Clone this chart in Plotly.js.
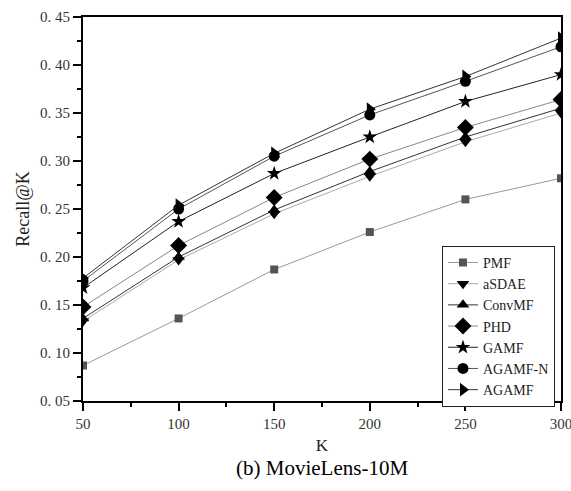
<!DOCTYPE html>
<html>
<head>
<meta charset="utf-8">
<script src="https://cdn.plot.ly/plotly-3.0.1.min.js"></script>
<style>html,body{margin:0;padding:0;background:#fff;}#chart{width:571px;height:491px;}</style>
</head>
<body>
<div id="chart"></div>
<script>
const K = [50, 100, 150, 200, 250, 300];
const PMF     = [0.087, 0.136, 0.187, 0.226, 0.260, 0.282];
const aSDAE   = [0.133, 0.197, 0.245, 0.284, 0.320, 0.350];
const ConvMF  = [0.136, 0.200, 0.249, 0.289, 0.325, 0.355];
const PHD     = [0.148, 0.212, 0.262, 0.302, 0.335, 0.364];
const GAMF    = [0.168, 0.237, 0.287, 0.325, 0.362, 0.390];
const AGAMF_N = [0.175, 0.250, 0.305, 0.348, 0.383, 0.419];
const AGAMF   = [0.178, 0.254, 0.308, 0.354, 0.388, 0.428];

const seriesNames = ["PMF", "aSDAE", "ConvMF", "PHD", "GAMF", "AGAMF-N", "AGAMF"];
const yTickVals = [0.05, 0.10, 0.15, 0.20, 0.25, 0.30, 0.35, 0.40, 0.45];
const yTickText = ["0.\u00a005", "0.\u00a010", "0.\u00a015", "0.\u00a020", "0.\u00a025", "0.\u00a030", "0.\u00a035", "0.\u00a040", "0.\u00a045"];
const xTickVals = [50, 100, 150, 200, 250, 300];

const FONT = "'Liberation Serif', 'DejaVu Serif', serif";

const styles = [
  {symbol: "square", size: 8, mcolor: "#555", lcolor: "#999"},
  {symbol: "triangle-down", size: 11, mcolor: "#000", lcolor: "#aaa"},
  {symbol: "triangle-up", size: 11, mcolor: "#000", lcolor: "#333"},
  {symbol: "diamond", size: 13, mcolor: "#000", lcolor: "#888"},
  {symbol: "star", size: 11, mcolor: "#000", lcolor: "#222"},
  {symbol: "circle", size: 11, mcolor: "#000", lcolor: "#555"},
  {symbol: "triangle-right", size: 12, mcolor: "#000", lcolor: "#333"}
];
const ys = [PMF, aSDAE, ConvMF, PHD, GAMF, AGAMF_N, AGAMF];

const traces = ys.map((y, i) => ({
  x: K, y: y, name: seriesNames[i], type: "scatter", mode: "lines+markers",
  line: {color: styles[i].lcolor, width: 1},
  marker: {symbol: styles[i].symbol, size: styles[i].size, color: styles[i].mcolor, line: {width: 0}},
  cliponaxis: true
}));

const layout = {
  width: 571, height: 491,
  margin: {l: 83, r: 10, t: 17, b: 90},
  paper_bgcolor: "#fff", plot_bgcolor: "#fff",
  font: {family: FONT, color: "#222", size: 15},
  showlegend: true,
  legend: {
    x: 0.751, y: 0.404, xanchor: "left", yanchor: "top",
    bgcolor: "#fff", bordercolor: "#222", borderwidth: 1,
    font: {family: FONT, size: 14, color: "#222"},
    tracegroupgap: 0, itemwidth: 30
  },
  xaxis: {
    range: [50, 300], tickmode: "array", tickvals: xTickVals,
    ticks: "outside", ticklen: 8, tickwidth: 2, tickcolor: "#000",
    showline: true, linewidth: 2, linecolor: "#000", mirror: true,
    showgrid: false, zeroline: false, ticklabeloverflow: "allow",
    minor: {dtick: 25, tick0: 50, ticks: "outside", ticklen: 4, tickwidth: 2, tickcolor: "#000", showgrid: false},
    tickfont: {family: FONT, size: 15, color: "#333"},
    title: {text: "K", font: {family: FONT, size: 17, color: "#222"}, standoff: 8}
  },
  yaxis: {
    range: [0.05, 0.45], tickmode: "array", tickvals: yTickVals, ticktext: yTickText,
    ticks: "outside", ticklen: 8, tickwidth: 2, tickcolor: "#000",
    showline: true, linewidth: 2, linecolor: "#000", mirror: true,
    showgrid: false, zeroline: false,
    minor: {dtick: 0.025, tick0: 0.05, ticks: "outside", ticklen: 4, tickwidth: 2, tickcolor: "#000", showgrid: false},
    tickfont: {family: FONT, size: 15, color: "#333"},
    title: {text: "Recall@K", font: {family: FONT, size: 18, color: "#222"}, standoff: 6}
  },
  annotations: [{
    text: "(b) MovieLens-10M", xref: "paper", yref: "paper",
    x: 0.5, y: -0.175, xanchor: "center", yanchor: "middle",
    showarrow: false, font: {family: FONT, size: 21, color: "#000"}
  }]
};

Plotly.newPlot("chart", traces, layout, {displayModeBar: false, staticPlot: true});
</script>
</body>
</html>
